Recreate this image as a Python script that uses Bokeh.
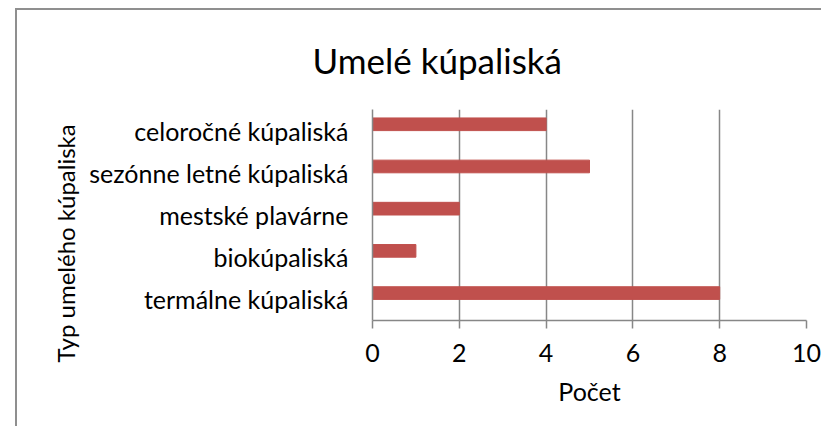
from bokeh.plotting import figure
from bokeh.models import Range1d, FactorRange, ColumnDataSource, FixedTicker, Title
from bokeh.transform import dodge
from bokeh.embed import file_html
from bokeh.resources import INLINE

categories = ["celoročné kúpaliská", "sezónne letné kúpaliská", "mestské plavárne",
              "biokúpaliská", "termálne kúpaliská"]
counts = [4, 5, 2, 1, 8]
x_ticks = [0, 2, 4, 6, 8, 10]
title_text = "Umelé kúpaliská"
x_label = "Počet"
y_label = "Typ umelého kúpaliska"

FONT = "Lato"
GRAY = "#878787"
BAR = "#C0504D"

source = ColumnDataSource(dict(cat=categories, n=counts))

p = figure(width=806, height=418, output_backend="svg", toolbar_location=None,
           y_range=FactorRange(factors=categories[::-1]),
           x_range=Range1d(0, 10),
           min_border_left=355, min_border_right=17, min_border_top=99, min_border_bottom=108,
           margin=(8, 0, 0, 15),
           styles={"border-left": "2px solid #8f8f8f", "border-top": "2px solid #8f8f8f"})
p.outline_line_color = None
p.background_fill_color = "white"
p.border_fill_color = "white"

# bars sit in the upper part of each category slot (as in the original chart)
p.hbar(y=dodge("cat", 0.15, range=p.y_range), left=0, right="n", height=0.3,
       source=source, color=BAR)

# x axis
p.xaxis.ticker = FixedTicker(ticks=x_ticks)
p.xaxis.axis_line_color = GRAY
p.xaxis.axis_line_width = 1.5
p.xaxis.major_tick_line_color = GRAY
p.xaxis.major_tick_line_width = 1.5
p.xaxis.major_tick_in = 0
p.xaxis.major_tick_out = 8
p.xaxis.minor_tick_line_color = None
p.xaxis.major_label_standoff = 15
p.xaxis.major_label_text_font = FONT
p.xaxis.major_label_text_font_size = "25px"
p.xaxis.major_label_text_color = "black"
p.xaxis.axis_label = x_label
p.xaxis.axis_label_text_font = FONT
p.xaxis.axis_label_text_font_size = "25px"
p.xaxis.axis_label_text_font_style = "normal"
p.xaxis.axis_label_text_color = "black"
p.xaxis.axis_label_standoff = 11

# y axis
p.yaxis.axis_line_color = GRAY
p.yaxis.axis_line_width = 1.5
p.yaxis.major_tick_line_color = None
p.yaxis.minor_tick_line_color = None
p.yaxis.major_label_standoff = 18
p.yaxis.major_label_text_font = FONT
p.yaxis.major_label_text_font_size = "25px"
p.yaxis.major_label_text_color = "black"

# grid
p.xgrid.grid_line_color = GRAY
p.xgrid.grid_line_width = 1.5
p.ygrid.grid_line_color = None

# y axis title (placed left of the category labels)
p.add_layout(Title(text=y_label, align="left", offset=-42, standoff=14,
                   text_font=FONT, text_font_size="24px", text_font_style="normal",
                   text_color="black"), "left")

# chart title
p.add_layout(Title(text=title_text, align="left", offset=-60, standoff=53,
                   vertical_align="top",
                   text_font=FONT, text_font_size="35px", text_font_style="normal",
                   text_color="black"), "above")

open("out.html", "w").write(file_html(p, INLINE))
